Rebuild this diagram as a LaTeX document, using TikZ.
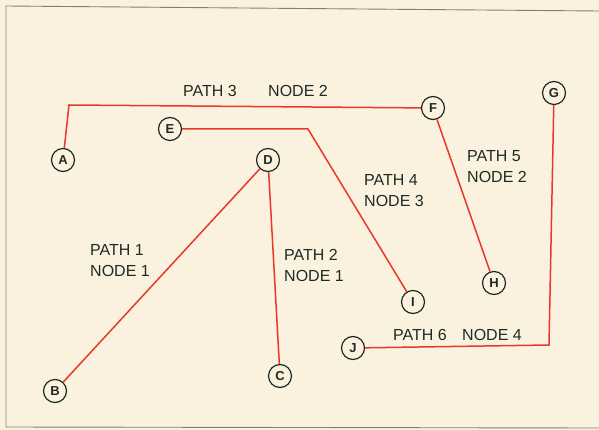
\documentclass[tikz,border=0pt]{standalone}
\usepackage{fontspec}
\setmainfont{Liberation Sans}
\definecolor{paper}{HTML}{FAF2DF}
\definecolor{wire}{HTML}{E8382B}
\definecolor{ink}{HTML}{1F2A24}
\definecolor{frame}{HTML}{7C8272}
\tikzset{
  pt/.style={circle, draw=ink, line width=1.2pt, fill=paper, minimum size=23pt, inner sep=0pt, font=\fontsize{13}{13}\selectfont\bfseries, text=ink},
  wirel/.style={draw=wire, line width=1.5pt},
  lbl/.style={font=\fontsize{16}{21}\selectfont, text=ink, inner sep=0pt, align=left}
}
\begin{document}
\begin{tikzpicture}[x=1pt,y=-1pt]
\useasboundingbox (0,0) rectangle (599,430);
\fill[paper] (0,0) rectangle (599,430);
\draw[frame, line width=0.9pt] (599,11) -- (6,6) -- (6,427) -- (599,428);
% corners
\coordinate (c3) at (69,105);
\coordinate (c4) at (308,129);
\coordinate (c6) at (549,345);
% nodes
\node[pt] (A) at (63,160) {A};
\node[pt] (B) at (55,391) {B};
\node[pt] (C) at (280,376) {C};
\node[pt] (D) at (268,160) {D};
\node[pt] (E) at (170,129) {E};
\node[pt] (F) at (433,108) {F};
\node[pt] (G) at (554,93) {G};
\node[pt] (H) at (494,283) {H};
\node[pt] (I) at (413,302) {I};
\node[pt] (J) at (353,348) {J};
% connectors
\draw[wirel] (A) -- (c3) -- (F);
\draw[wirel] (E) -- (c4) -- (I);
\draw[wirel] (G) -- (c6) -- (J);
\draw[wirel] (D) -- (B);
\draw[wirel] (D) -- (C);
\draw[wirel] (F) -- (H);
% labels
\node[lbl, anchor=west] (l3a) at (183,91) {PATH 3};
\node[lbl, anchor=west] (l3b) at (268,91) {NODE 2};
\node[lbl, anchor=west] (l5) at (467,167) {PATH 5\\NODE 2};
\node[lbl, anchor=west] (l4) at (364,191) {PATH 4\\NODE 3};
\node[lbl, anchor=west] (l2) at (284,265) {PATH 2\\NODE 1};
\node[lbl, anchor=west] (l1) at (90,261) {PATH 1\\NODE 1};
\node[lbl, anchor=west] (l6a) at (393,335) {PATH 6};
\node[lbl, anchor=west] (l6b) at (462,335) {NODE 4};
\end{tikzpicture}
\end{document}
